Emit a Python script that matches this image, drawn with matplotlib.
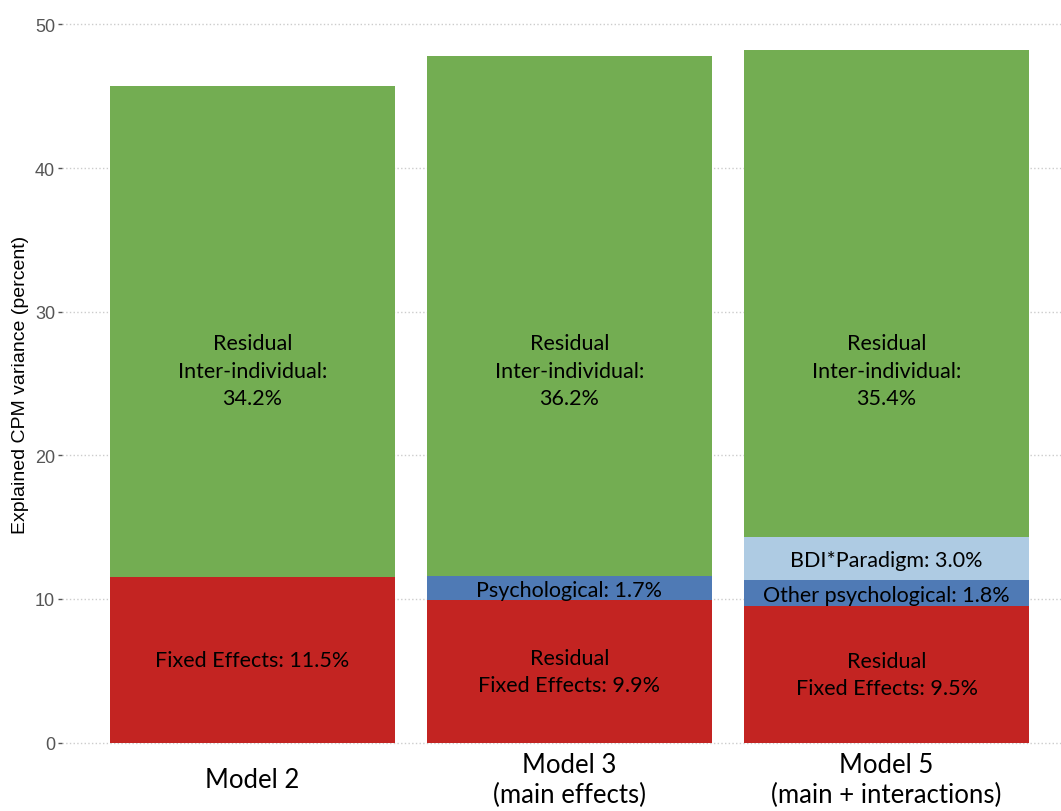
import numpy as np
import matplotlib
matplotlib.use('Agg')
import matplotlib.pyplot as plt

# data (segment heights as drawn, bottom to top)
models = ['Model 2', 'Model 3\n(main effects)', 'Model 5\n(main + interactions)']
fixed = [11.5, 9.9, 9.5]
psych = [0.0, 1.7, 1.8]
bdi = [0.0, 0.0, 3.0]
inter = [34.2, 36.2, 33.9]

fixed_labels = ['Fixed Effects: 11.5%', 'Residual\nFixed Effects: 9.9%', 'Residual\nFixed Effects: 9.5%']
psych_labels = ['', 'Psychological: 1.7%', 'Other psychological: 1.8%']
bdi_labels = ['', '', 'BDI*Paradigm: 3.0%']
inter_labels = ['Residual\nInter-individual:\n34.2%', 'Residual\nInter-individual:\n36.2%',
                'Residual\nInter-individual:\n35.4%']

col_fixed = '#C32422'
col_psych = '#4F7AB5'
col_bdi = '#AECBE3'
col_inter = '#73AD52'

lab_font = 'Lato'
fs = 15.5

fig = plt.figure(figsize=(10.61, 8.12), dpi=100)
ax = fig.add_axes([62 / 1061, 1 - 758 / 812, 1 - 62 / 1061, (758 - 11) / 812])

x = np.arange(len(models))
w = 0.9
fixed = np.array(fixed); psych = np.array(psych); bdi = np.array(bdi); inter = np.array(inter)

ax.bar(x, fixed, w, color=col_fixed, zorder=2)
ax.bar(x, psych, w, bottom=fixed, color=col_psych, zorder=2)
ax.bar(x, bdi, w, bottom=fixed + psych, color=col_bdi, zorder=2)
ax.bar(x, inter, w, bottom=fixed + psych + bdi, color=col_inter, zorder=2)

# segment labels
for i in range(len(models)):
    ax.text(x[i], fixed[i] / 2, fixed_labels[i], ha='center', va='center',
            fontsize=fs, family=lab_font, linespacing=1.45, zorder=3)
    if psych_labels[i]:
        ax.text(x[i], fixed[i] + psych[i] / 2 - 0.1, psych_labels[i], ha='center', va='center',
                fontsize=fs, family=lab_font, zorder=3)
    if bdi_labels[i]:
        ax.text(x[i], fixed[i] + psych[i] + bdi[i] / 2 - 0.1, bdi_labels[i], ha='center', va='center',
                fontsize=fs, family=lab_font, zorder=3)
    ax.text(x[i], 25.9, inter_labels[i], ha='center', va='center',
            fontsize=fs, family=lab_font, linespacing=1.45, zorder=3)

ax.set_xlim(-0.6, 2.55)
ax.set_ylim(-1, 51)
ax.set_yticks([0, 10, 20, 30, 40, 50])
ax.set_xticks(x)
ax.set_xticklabels(models, fontsize=18.5, family=lab_font, linespacing=1.25)
for lab in ax.get_xticklabels():
    lab.set_verticalalignment('center')
ax.tick_params(axis='x', length=0, pad=16.5)
ax.tick_params(axis='y', length=3, width=1, color='#555555', labelcolor='#555555',
               labelsize=13, pad=2)
for lab in ax.get_yticklabels():
    lab.set_family('Liberation Sans')

ax.grid(axis='y', color='#cccccc', linestyle=':', linewidth=1, zorder=0)
ax.grid(axis='x', visible=False)
for s in ax.spines.values():
    s.set_visible(False)

ax.set_ylabel('Explained CPM variance (percent)', fontsize=14, family='Liberation Sans',
              labelpad=4)

fig.savefig('out.png', dpi=100)
